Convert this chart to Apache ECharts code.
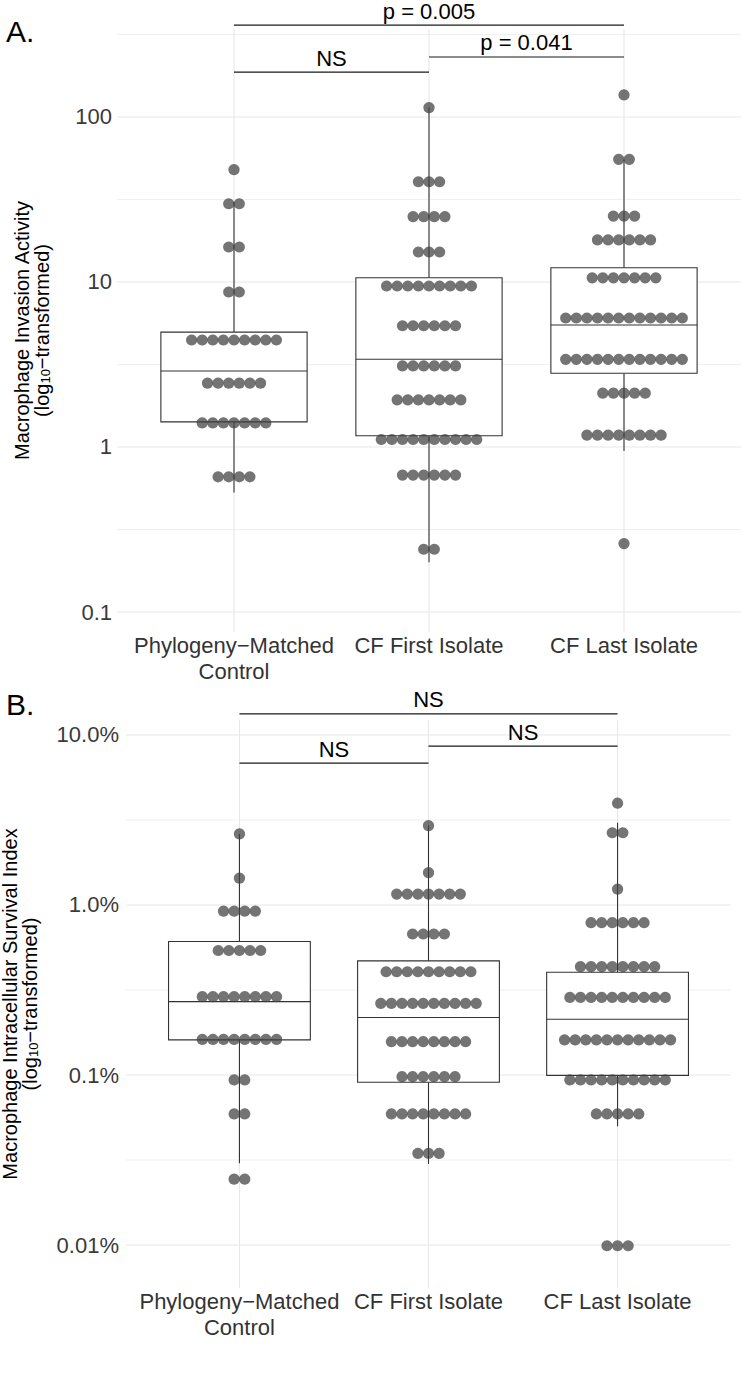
<!DOCTYPE html>
<html><head><meta charset="utf-8">
<script src="https://cdn.jsdelivr.net/npm/echarts@6/dist/echarts.min.js"></script>
<style>html,body{margin:0;padding:0;background:#fff}#c{width:742px;height:1389px}</style>
</head><body><div id="c"></div>
<script>
// ---------- data ----------
const categories = ['Phylogeny\u2212Matched\nControl', 'CF First Isolate', 'CF Last Isolate'];

// Panel A: Macrophage Invasion Activity (dot rows: binned value + number of dots)
const aTickValues = [0.1, 1, 10, 100];
const aTickLabels = ['0.1', '1', '10', '100'];
const aCtrlVals   = [48, 29.8, 16.3, 8.7, 4.45, 2.44, 1.40, 0.66];
const aCtrlCounts = [1, 2, 2, 2, 9, 6, 7, 4];
const aFirstVals   = [114, 40.5, 24.9, 15.2, 9.46, 5.43, 3.10, 1.93, 1.11, 0.676, 0.24];
const aFirstCounts = [1, 3, 4, 3, 9, 6, 6, 7, 10, 6, 2];
const aLastVals   = [136, 55.4, 25.1, 18.0, 10.6, 6.05, 3.40, 2.12, 1.18, 0.26];
const aLastCounts = [1, 2, 3, 6, 7, 12, 12, 5, 8, 1];
// boxes: [whisker low, Q1, median, Q3, whisker high]
const aBoxCtrl  = [0.53, 1.42, 2.89, 4.97, 30.5];
const aBoxFirst = [0.20, 1.17, 3.40, 10.6, 114];
const aBoxLast  = [0.946, 2.80, 5.49, 12.2, 55];
// significance brackets: [from group, to group, y value]
const aBracketPos = [[1, 3, 360], [2, 3, 231], [1, 2, 187]];
const aBracketLabels = ['p = 0.005', 'p = 0.041', 'NS'];

// Panel B: Macrophage Intracellular Survival Index (%)
const bTickValues = [0.01, 0.1, 1, 10];
const bTickLabels = ['0.01%', '0.1%', '1.0%', '10.0%'];
const bCtrlVals   = [2.62, 1.44, 0.92, 0.54, 0.289, 0.162, 0.0935, 0.059, 0.0244];
const bCtrlCounts = [1, 1, 4, 5, 8, 8, 2, 2, 2];
const bFirstVals   = [2.93, 1.55, 1.16, 0.675, 0.405, 0.264, 0.157, 0.0977, 0.059, 0.0346];
const bFirstCounts = [1, 1, 7, 4, 9, 10, 8, 6, 8, 3];
const bLastVals   = [3.97, 2.66, 1.24, 0.787, 0.434, 0.286, 0.161, 0.0935, 0.059, 0.0099];
const bLastCounts = [1, 2, 1, 6, 8, 10, 11, 10, 5, 3];
const bBoxCtrl  = [0.0303, 0.161, 0.27, 0.61, 2.62];
const bBoxFirst = [0.030, 0.0906, 0.218, 0.469, 2.93];
const bBoxLast  = [0.050, 0.0995, 0.213, 0.402, 3.05];
const bBracketPos = [[1, 3, 13.3], [2, 3, 8.6], [1, 2, 6.84]];
const bBracketLabels = ['NS', 'NS', 'NS'];

// ---------- helpers ----------
const FONT = '"Liberation Sans", Arial, Helvetica, sans-serif';
const L = Math.log10;
const DOT_R = 5.6, DOT_PITCH = 10.6;
const DOT_FILL = 'rgba(64,64,64,0.73)';
const BOX_STROKE = '#333333';

function dotRows(groups) {
  const out = [];
  groups.forEach(([vals, counts], gi) => {
    vals.forEach((v, i) => out.push([gi + 1, L(v), counts[i]]));
  });
  return out;
}
function boxRows(boxes) {
  return boxes.map((b, gi) => [gi + 1].concat(b.map(L)));
}
function gridRows(lo, hi) {
  const rows = [];
  const t0 = Math.ceil(lo * 2) / 2;
  for (let v = t0; v <= hi + 1e-9; v += 0.5) {
    rows.push([0, v, Math.abs(v - Math.round(v)) < 1e-9 ? 1 : 0]);
  }
  [1, 2, 3].forEach(x => rows.push([1, x, 1]));
  return rows;
}

function renderGrid(params, api) {
  const cs = params.coordSys;
  const orient = api.value(0), v = api.value(1), major = api.value(2);
  let shape;
  if (orient === 0) {
    const y = api.coord([1, v])[1];
    shape = { x1: cs.x, y1: y, x2: cs.x + cs.width, y2: y };
  } else {
    const x = api.coord([v, 0])[0];
    shape = { x1: x, y1: cs.y, x2: x, y2: cs.y + cs.height };
  }
  return { type: 'line', shape, style: { stroke: '#e8e8e8', lineWidth: major ? 1.1 : 0.7 }, silent: true };
}
function renderBox(params, api) {
  const x = api.value(0);
  const yv = [1, 2, 3, 4, 5].map(i => api.coord([x, api.value(i)])[1]);
  const cx = api.coord([x, api.value(3)])[0];
  const l = api.coord([x - 0.375, api.value(3)])[0];
  const r = api.coord([x + 0.375, api.value(3)])[0];
  const st = { stroke: BOX_STROKE, lineWidth: 1.1 };
  return {
    type: 'group', children: [
      { type: 'line', shape: { x1: cx, y1: yv[4], x2: cx, y2: yv[3] }, style: st },
      { type: 'line', shape: { x1: cx, y1: yv[1], x2: cx, y2: yv[0] }, style: st },
      { type: 'rect', shape: { x: l, y: yv[3], width: r - l, height: yv[1] - yv[3] }, style: { fill: '#fff', stroke: BOX_STROKE, lineWidth: 1.1 } },
      { type: 'line', shape: { x1: l, y1: yv[2], x2: r, y2: yv[2] }, style: st }
    ]
  };
}
function renderDots(params, api) {
  const x = api.value(0), y = api.value(1), n = api.value(2);
  const c = api.coord([x, y]);
  const children = [];
  for (let i = 0; i < n; i++) {
    children.push({ type: 'circle', shape: { cx: c[0] + (i - (n - 1) / 2) * DOT_PITCH, cy: c[1], r: DOT_R }, style: { fill: DOT_FILL } });
  }
  return { type: 'group', children };
}
function makeBracketRender(labels) {
  return function (params, api) {
    const x1 = api.value(0), x2 = api.value(1), y = api.value(2);
    const p1 = api.coord([x1, y]), p2 = api.coord([x2, y]);
    return {
      type: 'group', children: [
        { type: 'line', shape: { x1: p1[0], y1: p1[1], x2: p2[0], y2: p2[1] }, style: { stroke: '#1a1a1a', lineWidth: 1.2 } },
        { type: 'text', style: { text: labels[params.dataIndex], x: (p1[0] + p2[0]) / 2, y: p1[1] - 3, align: 'center', verticalAlign: 'bottom', fontSize: 22, fontFamily: FONT, fill: '#000' } }
      ]
    };
  };
}

// axis ranges (log10 units)
const aMin = -1.1212, aMax = 2.5333;
const bMin = -2.2529, bMax = 1.0882;

function yAxisCfg(gi, mn, mx, ticks, labels, name, gap, margin) {
  const logs = ticks.map(L);
  return {
    gridIndex: gi, type: 'value', min: mn, max: mx,
    axisLine: { show: false }, axisTick: { show: false }, splitLine: { show: false },
    axisLabel: {
      customValues: logs,
      formatter: v => { const i = logs.findIndex(t => Math.abs(t - v) < 1e-6); return i >= 0 ? labels[i] : ''; },
      color: '#3a3a3a', fontSize: 22, fontFamily: FONT, margin: margin
    },
    name: name, nameLocation: 'middle', nameRotate: 90, nameGap: gap,
    nameTextStyle: {
      color: '#000', fontSize: 20, fontFamily: FONT, lineHeight: 20, align: 'center',
      rich: { sub: { fontSize: 13, fontFamily: FONT, color: '#000', verticalAlign: 'bottom', lineHeight: 13 } }
    }
  };
}
function xAxisCfg(gi) {
  return {
    gridIndex: gi, type: 'value', min: 0.4, max: 3.6,
    axisLine: { show: false }, axisTick: { show: false }, splitLine: { show: false },
    axisLabel: {
      customValues: [1, 2, 3],
      formatter: v => categories[Math.round(v) - 1],
      color: '#333', fontSize: 22, fontFamily: FONT, lineHeight: 26, margin: 0
    }
  };
}

const chart = echarts.init(document.getElementById('c'), null, { renderer: 'svg' });
chart.setOption({
  animation: false,
  backgroundColor: '#fff',
  title: [
    { text: 'A.', left: 1, top: 11, textStyle: { fontSize: 30, fontWeight: 'normal', color: '#000', fontFamily: FONT } },
    { text: 'B.', left: 1, top: 684, textStyle: { fontSize: 30, fontWeight: 'normal', color: '#000', fontFamily: FONT } }
  ],
  grid: [
    { left: 117, right: 1, top: 29, height: 603, containLabel: false, outerBoundsMode: 'none' },
    { left: 126, right: 11, top: 720, height: 568, containLabel: false, outerBoundsMode: 'none' }
  ],
  xAxis: [xAxisCfg(0), xAxisCfg(1)],
  yAxis: [
    yAxisCfg(0, aMin, aMax, aTickValues, aTickLabels, 'Macrophage Invasion Activity\n(log{sub|10}\u2212transformed)', 65, 5),
    yAxisCfg(1, bMin, bMax, bTickValues, bTickLabels, 'Macrophage Intracellular Survival Index\n(log{sub|10}\u2212transformed)', 86, 7)
  ],
  series: [
    { type: 'custom', xAxisIndex: 0, yAxisIndex: 0, z: 1, renderItem: renderGrid, data: gridRows(aMin, aMax), silent: true },
    { type: 'custom', xAxisIndex: 1, yAxisIndex: 1, z: 1, renderItem: renderGrid, data: gridRows(bMin, bMax), silent: true },
    { type: 'custom', xAxisIndex: 0, yAxisIndex: 0, z: 2, renderItem: renderBox, data: boxRows([aBoxCtrl, aBoxFirst, aBoxLast]) },
    { type: 'custom', xAxisIndex: 1, yAxisIndex: 1, z: 2, renderItem: renderBox, data: boxRows([bBoxCtrl, bBoxFirst, bBoxLast]) },
    { type: 'custom', xAxisIndex: 0, yAxisIndex: 0, z: 3, renderItem: renderDots, data: dotRows([[aCtrlVals, aCtrlCounts], [aFirstVals, aFirstCounts], [aLastVals, aLastCounts]]) },
    { type: 'custom', xAxisIndex: 1, yAxisIndex: 1, z: 3, renderItem: renderDots, data: dotRows([[bCtrlVals, bCtrlCounts], [bFirstVals, bFirstCounts], [bLastVals, bLastCounts]]) },
    { type: 'custom', xAxisIndex: 0, yAxisIndex: 0, z: 4, renderItem: makeBracketRender(aBracketLabels), data: aBracketPos.map(b => [b[0], b[1], L(b[2])]), clip: false },
    { type: 'custom', xAxisIndex: 1, yAxisIndex: 1, z: 4, renderItem: makeBracketRender(bBracketLabels), data: bBracketPos.map(b => [b[0], b[1], L(b[2])]), clip: false }
  ]
});
</script></body></html>
